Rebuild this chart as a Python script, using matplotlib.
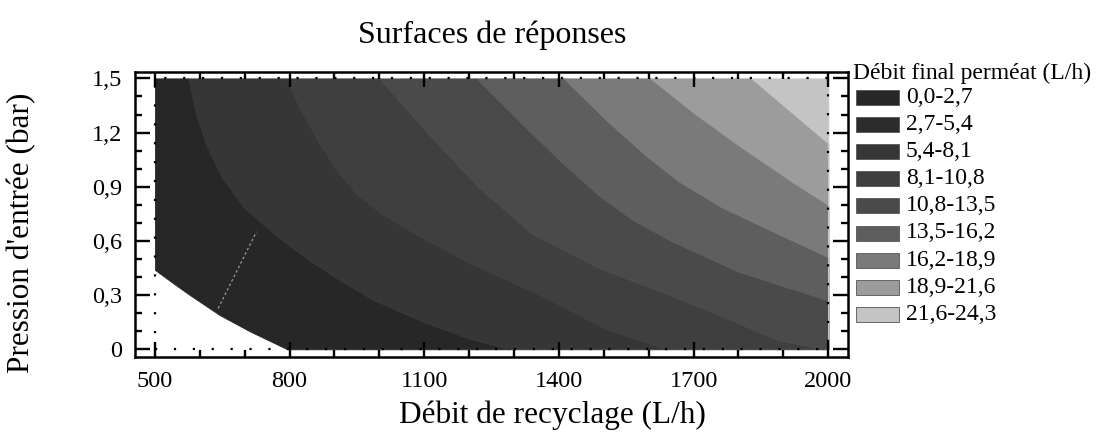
import numpy as np
import matplotlib
matplotlib.use("Agg")
import matplotlib.pyplot as plt
from matplotlib.ticker import MultipleLocator
from matplotlib.patches import Rectangle

plt.rcParams["font.family"] = ["Liberation Serif", "DejaVu Serif"]

# iso-lines: (recycling flow L/h, inlet pressure bar)
iso_0_x = [795, 711, 644, 578, 541, 500]
iso_0_p = [0.0, 0.10, 0.19, 0.30, 0.365, 0.44]

iso_5_4_x = [1290, 1200, 1100, 985, 911, 840, 775, 700, 650, 615, 593, 574]
iso_5_4_p = [0.0, 0.06, 0.15, 0.275, 0.385, 0.50, 0.62, 0.78, 0.95, 1.13, 1.29, 1.5]

iso_8_1_x = [1640, 1511, 1350, 1200, 1080, 1000, 950, 905, 862, 822, 793]
iso_8_1_p = [0.0, 0.107, 0.31, 0.48, 0.64, 0.76, 0.86, 0.99, 1.16, 1.34, 1.5]

iso_10_8_x = [1990, 1889, 1785, 1637, 1489, 1340, 1220, 1110, 1000]
iso_10_8_p = [0.0, 0.05, 0.16, 0.31, 0.45, 0.64, 0.90, 1.19, 1.5]

iso_13_5_x = [2000, 1800, 1650, 1562, 1490, 1400, 1305, 1216]
iso_13_5_p = [0.27, 0.43, 0.60, 0.72, 0.85, 1.05, 1.28, 1.5]

iso_16_2_x = [2000, 1870, 1760, 1667, 1595, 1505, 1411]
iso_16_2_p = [0.51, 0.66, 0.79, 0.93, 1.07, 1.27, 1.5]

iso_18_9_x = [2000, 1918, 1800, 1700, 1604]
iso_18_9_p = [0.80, 0.93, 1.13, 1.31, 1.5]

iso_21_6_x = [2000, 1910, 1829]
iso_21_6_p = [1.14, 1.33, 1.5]

# faint dotted trace visible in the darkest zone
trace_x = [641, 726]
trace_p = [0.227, 0.65]

level_labels = ["0,0-2,7", "2,7-5,4", "5,4-8,1", "8,1-10,8", "10,8-13,5",
                "13,5-16,2", "16,2-18,9", "18,9-21,6", "21,6-24,3"]
level_colors = ["#272727", "#2c2c2c", "#363636", "#3f3f3f", "#4a4a4a",
                "#5e5e5e", "#7a7a7a", "#9c9c9c", "#c4c4c4"]

xticks = [500, 800, 1100, 1400, 1700, 2000]
yticks = [0, 0.3, 0.6, 0.9, 1.2, 1.5]
ytick_labels = ["0", "0,3", "0,6", "0,9", "1,2", "1,5"]


def curve(xs, ps, pf):
    ps = np.asarray(ps, float)
    xs = np.asarray(xs, float)
    o = np.argsort(ps)
    return np.interp(pf, ps[o], xs[o])


fig = plt.figure(figsize=(10.96, 4.34), dpi=100)
ax = fig.add_axes([135/1096, 1-356.7/434, 713/1096, 285/434])

pf = np.linspace(0, 1.5, 751)
bounds = [curve(iso_0_x, iso_0_p, pf),
          curve(iso_5_4_x, iso_5_4_p, pf),
          curve(iso_8_1_x, iso_8_1_p, pf),
          curve(iso_10_8_x, iso_10_8_p, pf),
          curve(iso_13_5_x, iso_13_5_p, pf),
          curve(iso_16_2_x, iso_16_2_p, pf),
          curve(iso_18_9_x, iso_18_9_p, pf),
          curve(iso_21_6_x, iso_21_6_p, pf),
          np.full_like(pf, 2000.)]
# darkest zone carries the two first classes
fill_colors = [level_colors[0]] + level_colors[2:]
for i, col in enumerate(fill_colors):
    ax.fill_betweenx(pf, bounds[i], bounds[i+1], color=col, lw=0.6, ec=col)

ax.plot(trace_x, trace_p, color="#9a9a9a", lw=0.9, ls=(0, (2, 2)), zorder=3)

# dotted outline of the experimental domain
ax.plot([500, 2000, 2000, 500, 500], [0, 0, 1.5, 1.5, 0], color="k",
        lw=1.6, ls=(0, (1, 7.5)), zorder=4)

ax.set_xlim(455.6, 2044)
ax.set_ylim(-0.041, 1.537)
ax.set_xticks(xticks)
ax.set_yticks(yticks)
ax.set_yticklabels(ytick_labels)
ax.xaxis.set_minor_locator(MultipleLocator(100))
ax.yaxis.set_minor_locator(MultipleLocator(0.1))
ax.tick_params(which="both", direction="in", top=True, right=True,
               width=1.7, labelsize=17.5, color="k")
ax.tick_params(which="major", length=11)
ax.tick_params(which="minor", length=5)
ax.tick_params(axis="x", pad=10)
ax.tick_params(axis="y", pad=9)
for s in ax.spines.values():
    s.set_linewidth(1.8)

fig.text(492/1096, 1-35/434, "Surfaces de réponses", ha="center", va="center", fontsize=23)
fig.text(552/1096, 1-415/434, "Débit de recyclage (L/h)", ha="center", va="center", fontsize=22.5)
fig.text(22/1096, 1-233/434, "Pression d'entrée (bar)", ha="center", va="center",
         rotation=90, fontsize=22.5)

# legend drawn by hand to follow the scan layout
fig.text(853/1096, 1-73/434, "Débit final perméat (L/h)", ha="left", va="center", fontsize=17)
for i, (lab, col) in enumerate(zip(level_labels, level_colors)):
    yc = 97.5 + i*27.1
    fig.add_artist(Rectangle((856/1096, 1-(yc+7.5)/434), 43/1096, 15/434,
                             transform=fig.transFigure, facecolor=col,
                             edgecolor="#555555", lw=0.6))
    fig.text(906/1096, 1-yc/434, lab, ha="left", va="center", fontsize=17)

fig.savefig("out.png", dpi=100)
